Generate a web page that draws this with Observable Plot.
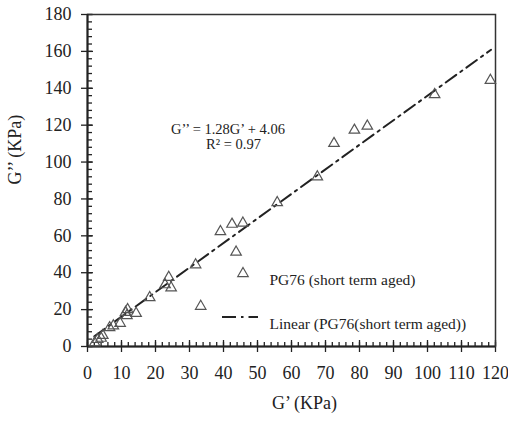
<!DOCTYPE html>
<html><head><meta charset="utf-8">
<script src="https://cdn.jsdelivr.net/npm/d3@7"></script>
<script src="https://cdn.jsdelivr.net/npm/@observablehq/plot@0.6"></script>
<style>html,body{margin:0;padding:0;background:#fff}#chart{width:508px;height:427px}
#chart svg, #chart svg text{font-family:"Liberation Serif","Times New Roman",serif !important}</style>
</head><body><div id="chart"></div>
<script>
// ---- data ----
const gPrime  = [118.5, 102.1, 82.3, 78.5, 72.5, 67.6, 55.8, 45.7, 42.5, 39.1, 43.7, 31.8, 33.3, 23.9, 22.8, 24.6, 18.3, 14.3, 11.8, 11.2, 11.6, 9.6, 7.6, 6.5, 4.5, 4.0, 3.0, 2.1];
const gDouble = [144.3, 136.6, 119.5, 117.3, 110.1, 92.0, 78.0, 66.9, 66.3, 62.3, 51.2, 44.3, 21.8, 37.5, 33.5, 31.8, 26.5, 18.0, 20.0, 18.5, 16.8, 12.6, 11.2, 10.2, 6.0, 4.5, 3.8, 2.0];
const trendX = [2, 118.7];
const trendY = [5.5, 160.9];
const xTicks = [0, 10, 20, 30, 40, 50, 60, 70, 80, 90, 100, 110, 120];
const yTicks = [0, 20, 40, 60, 80, 100, 120, 140, 160, 180];
const xMinorStep = 2;
const yMinorStep = 4;
const eqLines = ["G’’ = 1.28G’ + 4.06", "R² = 0.97"];
const legendLabels = ["PG76 (short term aged)", "Linear (PG76(short term aged))"];
const xTitle = "G’ (KPa)";
const yTitle = "G’’ (KPa)";

// ---- layout ----
const W = 508, H = 427, mL = 87, mR = 13, mT = 14, mB = 81;
const iw = W - mL - mR, ih = H - mT - mB;
const font = "Liberation Serif";
const ink = "#222";

const points = gPrime.map((x, i) => ({x, y: gDouble[i]}));
const trend = trendX.map((x, i) => ({x, y: trendY[i]}));
const xMinor = d3.range(xTicks[0], xTicks[xTicks.length - 1] + 0.001, xMinorStep);
const yMinor = d3.range(yTicks[0], yTicks[yTicks.length - 1] + 0.001, yMinorStep);

const plot = Plot.plot({
  width: W, height: H,
  marginLeft: mL, marginRight: mR, marginTop: mT, marginBottom: mB,
  x: {domain: [xTicks[0], xTicks[xTicks.length - 1]]},
  y: {domain: [yTicks[0], yTicks[yTicks.length - 1]]},
  style: {fontFamily: font, fontSize: "18px", color: ink, background: "#fff"},
  marks: [
    Plot.axisX({ticks: xTicks, tickSize: 0, tickPadding: 20, fontSize: 18, fontFamily: font, label: null, fill: ink}),
    Plot.axisY({ticks: yTicks, tickSize: 0, tickPadding: 16, fontSize: 18, fontFamily: font, label: null, fill: ink}),
    Plot.tickX(xMinor, {x: d => d, insetTop: ih - 4, stroke: ink, strokeWidth: 1.3}),
    Plot.tickX(xTicks, {x: d => d, insetTop: ih - 6, insetBottom: -6, stroke: ink, strokeWidth: 1.3}),
    Plot.tickY(yMinor, {y: d => d, insetRight: iw - 5, stroke: ink, strokeWidth: 1.3}),
    Plot.tickY(yTicks, {y: d => d, insetRight: iw - 6, insetLeft: -6, stroke: ink, strokeWidth: 1.3}),
    Plot.frame({stroke: "#333", strokeWidth: 1.5}),
    Plot.ruleX([xTicks[0]], {stroke: ink, strokeWidth: 2}),
    Plot.ruleY([yTicks[0]], {stroke: ink, strokeWidth: 2}),
    Plot.line(trend, {x: "x", y: "y", stroke: ink, strokeWidth: 2, strokeDasharray: "13,5,2.5,5"}),
    Plot.dot(points, {x: "x", y: "y", symbol: "triangle", r: 3.9, stroke: "#555", strokeWidth: 1.2, fill: "none"}),
    Plot.text([eqLines[0]], {frameAnchor: "top-left", dx: 140.5, dy: 109, textAnchor: "middle", fontSize: 14.5, fontFamily: font, fill: ink}),
    Plot.text([eqLines[1]], {frameAnchor: "top-left", dx: 146, dy: 124.5, textAnchor: "middle", fontSize: 14.5, fontFamily: font, fill: ink}),
    Plot.text([legendLabels[0]], {frameAnchor: "top-left", dx: 182, dy: 259.5, textAnchor: "start", fontSize: 15.5, fontFamily: font, fill: ink}),
    Plot.text([legendLabels[1]], {frameAnchor: "top-left", dx: 182, dy: 303.5, textAnchor: "start", fontSize: 15.5, fontFamily: font, fill: ink}),
    Plot.text([xTitle], {frameAnchor: "bottom", dx: 13, dy: 62, fontSize: 18, fontFamily: font, fill: ink}),
    Plot.text([yTitle], {frameAnchor: "left", dx: -72, dy: 4, rotate: -90, fontSize: 18, fontFamily: font, fill: ink})
  ]
});

// legend swatches (marker + dash-dot sample)
const svg = d3.select(plot);
const g = svg.append("g");
g.append("path")
  .attr("transform", `translate(${mL + 156},${mT + 259.5})`)
  .attr("d", d3.symbol(d3.symbolTriangle, 3.9 * 3.9 * Math.PI)())
  .attr("fill", "none").attr("stroke", "#555").attr("stroke-width", 1.2);
g.append("line")
  .attr("x1", mL + 135).attr("x2", mL + 171)
  .attr("y1", mT + 303).attr("y2", mT + 303)
  .attr("stroke", ink).attr("stroke-width", 2)
  .attr("stroke-dasharray", "14,5,2.5,5");

document.getElementById("chart").appendChild(plot);
</script>
</body></html>
